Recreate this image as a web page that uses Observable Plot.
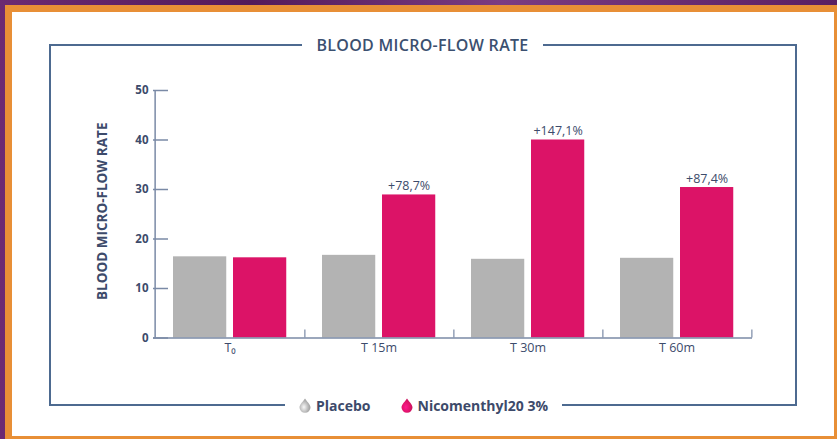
<!DOCTYPE html>
<html>
<head>
<meta charset="utf-8">
<script src="https://cdn.jsdelivr.net/npm/d3@7"></script>
<script src="https://cdn.jsdelivr.net/npm/@observablehq/plot@0.6"></script>
<style>
  html, body { margin: 0; padding: 0; }
  body { width: 837px; height: 439px; overflow: hidden; font-family: "Open Sans", Lato, sans-serif; }
  #page { position: relative; width: 837px; height: 439px; overflow: hidden;
    background: linear-gradient(90deg, #6b2a72 0%, #531a5a 30%, #7b3c82 60%, #5a1f62 100%); }
  #orange { position: absolute; left: 5px; top: 5px; right: 0; bottom: 0; background: #e88f36; }
  #white { position: absolute; left: 12px; top: 12px; width: 822px; height: 424px; background: #ffffff; }
  #frame { position: absolute; left: 49px; top: 44px; width: 748px; height: 362px; box-sizing: border-box;
    border: 2px solid #4d6a90; }
  #title { position: absolute; left: 302px; width: 241px; top: 35px; height: 20px; line-height: 20px;
    background: #fff; text-align: center; color: #3b5070; font-size: 16px; font-weight: 600; letter-spacing: 0.3px; white-space: nowrap; }
  #chart { position: absolute; left: 0; top: 0; }
  #legend { position: absolute; left: 285px; width: 277px; top: 395px; height: 20px; background: #fff;
    display: flex; align-items: center; justify-content: center; color: #3d4a6a; font-size: 14px; font-weight: 700; white-space: nowrap; }
  .item { display: flex; align-items: center; }
  .item svg { margin-right: 5px; }
</style>
</head>
<body>
<div id="page">
  <div id="orange"></div>
  <div id="white"></div>
  <div id="frame"></div>
  <div id="title"></div>
  <div id="chart"></div>
  <div id="legend"></div>
</div>
<script>
// ---- data ----
const times = ["T\u2080", "T 15m", "T 30m", "T 60m"];
const placebo = [16.4, 16.7, 15.9, 16.1];
const nicomenthyl = [16.2, 28.9, 40.0, 30.4];
const changes = ["", "+78,7%", "+147,1%", "+87,4%"];
const seriesNames = ["Placebo", "Nicomenthyl20 3%"];
const seriesColors = ["#b3b3b3", "#dc1367"];
const yTicks = [0, 10, 20, 30, 40, 50];
const titleText = "BLOOD MICRO-FLOW RATE";
const yLabel = "BLOOD MICRO-FLOW RATE";

const rows = times.map((t, i) => ({time: t, placebo: placebo[i], nico: nicomenthyl[i], change: changes[i]}));

const W = 837, H = 439;
const mL = 153, mR = 85, mT = 90, mB = 101.5;
const frameW = W - mL - mR;
const bw = frameW / times.length;
const textColor = "#3d4b6b";
const axisColor = "#7a8aa6";
const font = "'Open Sans', Lato, sans-serif";

const chart = Plot.plot({
  width: W,
  height: H,
  marginLeft: mL,
  marginRight: mR,
  marginTop: mT,
  marginBottom: mB,
  style: {background: "transparent", fontFamily: font, color: textColor, overflow: "visible"},
  x: {domain: times, padding: 0, label: null},
  y: {domain: [0, 50], label: null},
  marks: [
    Plot.barY(rows, {x: "time", y: "placebo", fill: seriesColors[0], insetLeft: 18, insetRight: bw - 72}),
    Plot.barY(rows, {x: "time", y: "nico", fill: seriesColors[1], insetLeft: 78, insetRight: bw - 132}),
    Plot.text(rows.filter(d => d.change), {x: "time", y: "nico", text: "change", dx: 105 - bw / 2, dy: -9,
      fill: textColor, fontSize: 12.5, fontWeight: 500}),
    Plot.ruleY([0], {stroke: axisColor, strokeWidth: 1.5}),
    Plot.ruleX([times[0]], {y1: yTicks[0], y2: yTicks[yTicks.length - 1], dx: -bw / 2, stroke: axisColor, strokeWidth: 1.5}),
    Plot.ruleX(times, {x: d => d, y1: 0, y2: 0, dx: bw / 2, insetTop: -8, stroke: axisColor, strokeWidth: 1.2}),
    Plot.tickY(yTicks, {y: d => d, insetRight: frameW - 15, stroke: axisColor, strokeWidth: 1.5}),
    Plot.axisY({ticks: yTicks, tickSize: 0, tickPadding: 5,
      fill: textColor, fontSize: 11.5, fontWeight: 700, label: null}),
    Plot.axisX({tickSize: 0, tickPadding: 5, fill: textColor, fontSize: 12.5, fontWeight: 500, label: null}),
    Plot.text([yLabel], {text: d => d, frameAnchor: "left", textAnchor: "middle", rotate: -90, dx: -51, dy: -3,
      fill: textColor, fontSize: 13.5, fontWeight: 700})
  ]
});
document.getElementById("chart").appendChild(chart);

document.getElementById("title").textContent = titleText;

// legend with drop icons
function dropSvg(color, id) {
  const ns = "http://www.w3.org/2000/svg";
  const svg = document.createElementNS(ns, "svg");
  svg.setAttribute("width", 12);
  svg.setAttribute("height", 15);
  svg.setAttribute("viewBox", "0 0 12 15");
  const c = d3.color(color);
  const light = c.brighter(0.9).formatHex();
  const dark = c.darker(0.6).formatHex();
  svg.innerHTML = `<defs><radialGradient id="${id}" cx="0.4" cy="0.6" r="0.7">
      <stop offset="0" stop-color="${light}"/><stop offset="0.6" stop-color="${color}"/><stop offset="1" stop-color="${dark}"/></radialGradient></defs>
    <path d="M6,0.5 C5,2.5 0.5,6.5 0.5,9.3 A5.5,5.5 0 0 0 11.5,9.3 C11.5,6.5 7,2.5 6,0.5 Z" fill="url(#${id})"/>`;
  return svg;
}
const legend = document.getElementById("legend");
seriesNames.forEach((name, i) => {
  const item = document.createElement("div");
  item.className = "item";
  item.style.marginLeft = i === 0 ? "0px" : "30px";
  item.appendChild(dropSvg(seriesColors[i], "g" + i));
  const span = document.createElement("span");
  span.textContent = name;
  item.appendChild(span);
  legend.appendChild(item);
});
</script>
</body>
</html>
